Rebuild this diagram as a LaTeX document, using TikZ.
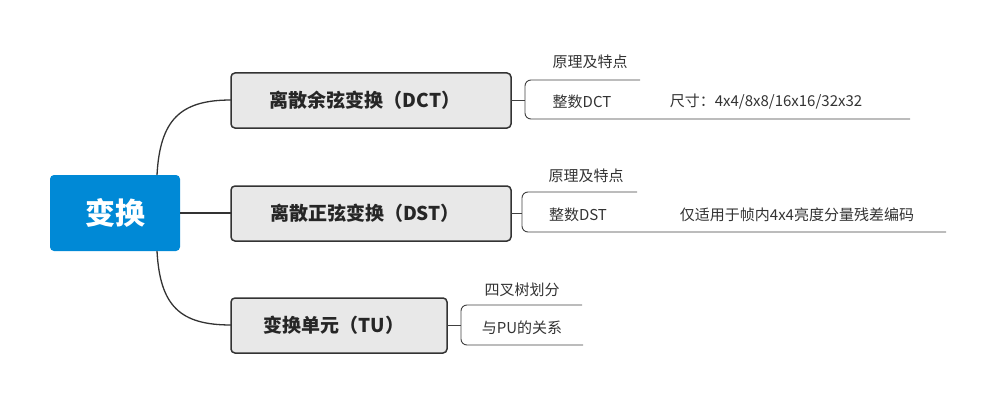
\documentclass[tikz,border=0pt]{standalone}
\usepackage{fontspec}
\setmainfont{Noto Sans CJK SC}
\begin{document}
\begin{tikzpicture}[x=1pt,y=-1pt,
  ln/.style={draw=black!80,line width=1.3pt},
  sl/.style={draw=black!75,line width=0.9pt},
  br/.style={draw=black!75,line width=0.9pt,rounded corners=6pt},
  box/.style={draw=black!80,line width=1.5pt,fill=black!9,rounded corners=4pt,font=\fontsize{19}{22}\selectfont\bfseries,text=black!85},
  sub/.style={font=\fontsize{15}{18}\selectfont,text=black!80,inner sep=0pt}]
\useasboundingbox (0,0) rectangle (997,404);
\fill[rounded corners=4pt,fill={rgb,255:red,0;green,137;blue,214}] (50,175) rectangle (180,251);
\node[font=\fontsize{30}{34}\selectfont\bfseries,text=white] (root) at (115,213) {变换};
\coordinate (rt) at (157,175); \coordinate (rb) at (157,251); \coordinate (rr) at (180,213);
\draw[box] (231,73) rectangle (511,128); \node[font=\fontsize{19}{22}\selectfont\bfseries,text=black!85] (b1) at (365,100) {离散余弦变换（DCT）};
\draw[box] (231,186) rectangle (511,241); \node[font=\fontsize{19}{22}\selectfont\bfseries,text=black!85] (b2) at (365,213) {离散正弦变换（DST）};
\draw[box] (231,298) rectangle (447,353); \node[font=\fontsize{19}{22}\selectfont\bfseries,text=black!85] (b3) at (334,325) {变换单元（TU）};
\coordinate (b1l) at (231,100); \coordinate (b2l) at (231,213); \coordinate (b3l) at (231,325);
\draw[ln] (rt) .. controls (160,120) and (180,100) .. (b1l);
\draw[ln] (rr) -- (b2l);
\draw[ln] (rb) .. controls (160,306) and (180,325) .. (b3l);
% DCT
\draw[sl] (511,100) -- (525,100);
\draw[br] (640,80) -- (525,80) -- (525,119) -- (910,119);
\node[sub] (a1) at (590,62) {原理及特点};
\node[sub] (a2) at (582,102) {整数DCT};
\node[sub] (a3) at (766,102) {尺寸：4x4/8x8/16x16/32x32};
% DST
\draw[sl] (511,213) -- (522,213);
\draw[br] (637,192) -- (522,192) -- (522,232) -- (946,232);
\node[sub] (c1) at (586,176) {原理及特点};
\node[sub] (c2) at (578,215) {整数DST};
\node[sub] (c3) at (797,215) {仅适用于帧内4x4亮度分量残差编码};
% TU
\draw[sl] (447,325) -- (461,325);
\draw[br] (582,305) -- (461,305) -- (461,345) -- (583,345);
\node[sub] (d1) at (522,290) {四叉树划分};
\node[sub] (d2) at (522,328) {与PU的关系};
\end{tikzpicture}
\end{document}
